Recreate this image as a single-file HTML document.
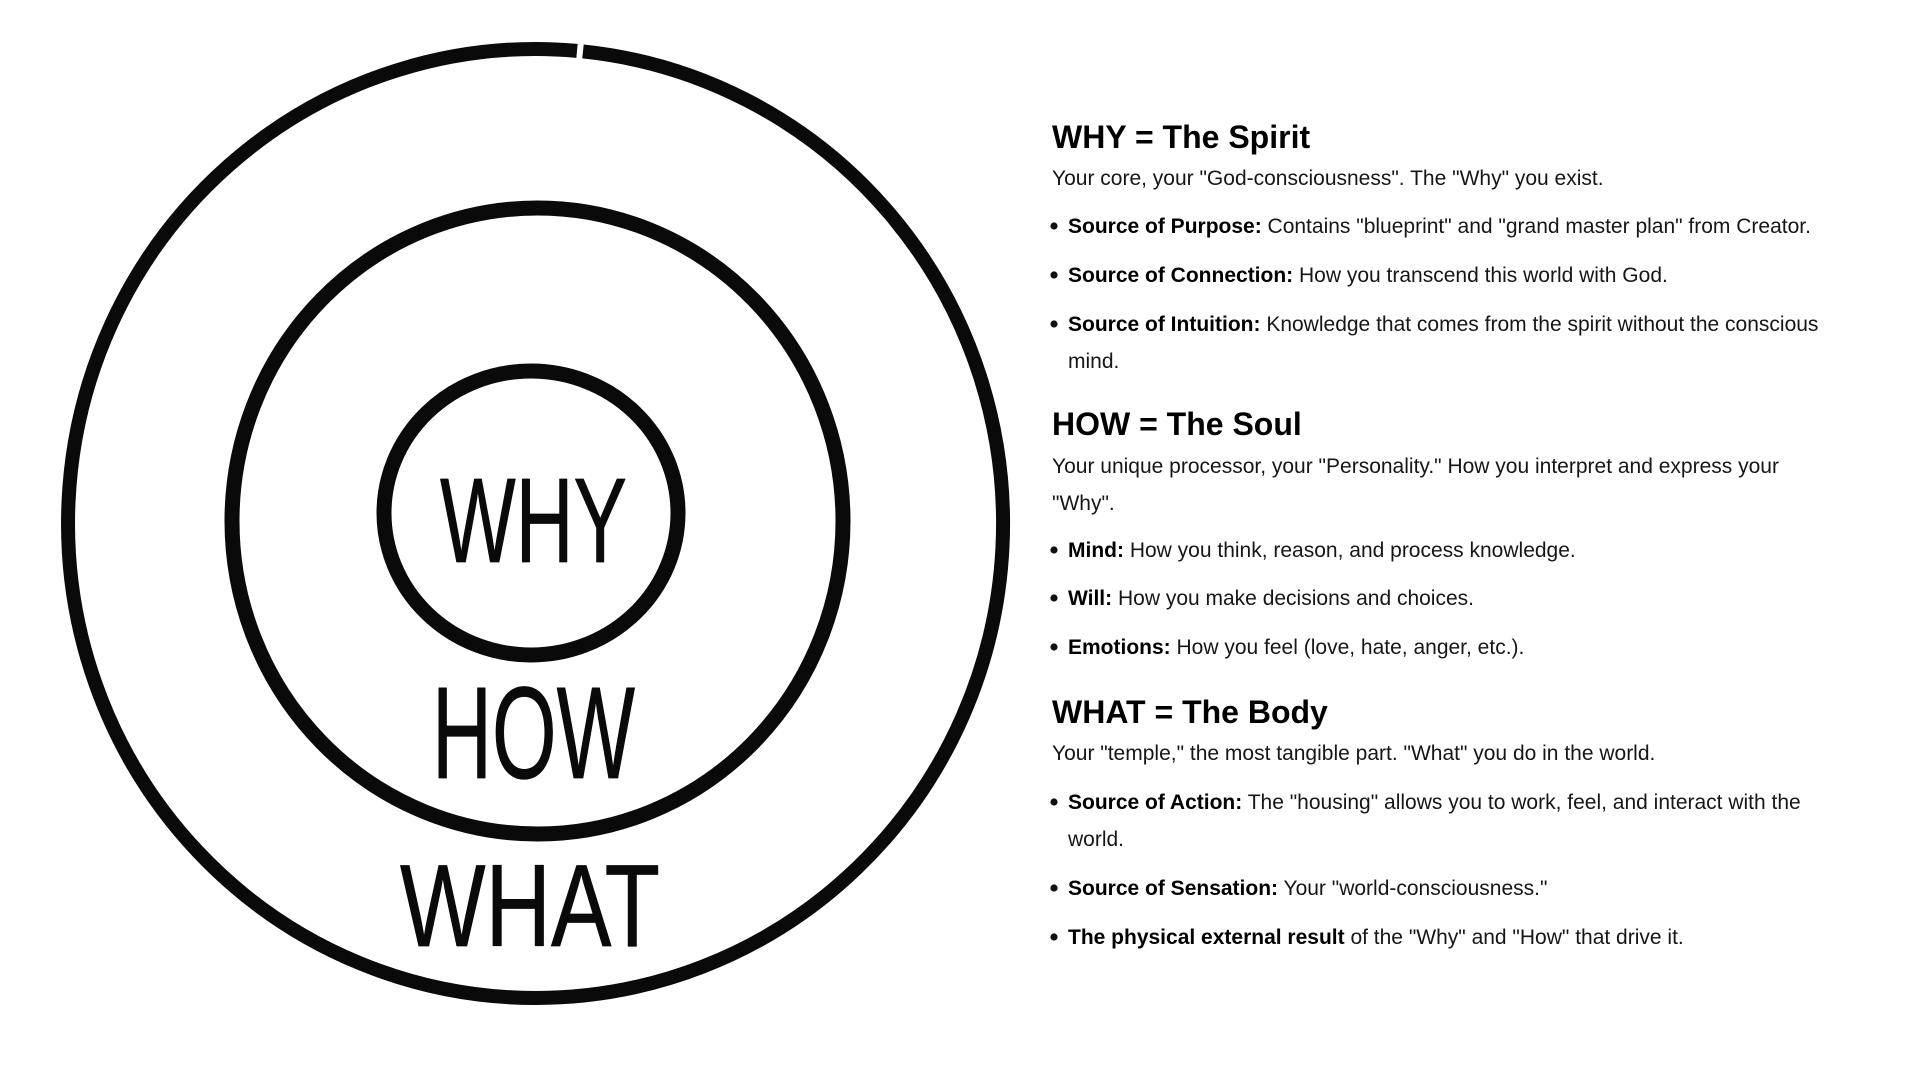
<!DOCTYPE html>
<html>
<head>
<meta charset="utf-8">
<style>
  html, body { margin: 0; padding: 0; background: #ffffff; }
  body { width: 1920px; height: 1080px; overflow: hidden; position: relative; }
  svg { position: absolute; left: 0; top: 0; }
  .hand { font-family: "Liberation Sans", "DejaVu Sans", sans-serif; font-weight: 400; fill: #0a0a0a; }
  .h { font-family: "Liberation Sans", "DejaVu Sans", sans-serif; font-weight: 700; font-size: 32px; fill: #000; }
  .b { font-family: "Liberation Sans", "DejaVu Sans", sans-serif; font-weight: 400; font-size: 21px; fill: #161616; }
  .bold { font-weight: 700; fill: #000; }
</style>
</head>
<body>
<svg width="1920" height="1080" viewBox="0 0 1920 1080" xmlns="http://www.w3.org/2000/svg">
  <rect x="0" y="0" width="1920" height="1080" fill="#ffffff"/>

  <!-- Outer circle with small gap near top -->
  <path d="M 583 51.45 A 467.5 474.5 0 0 1 535.5 998 A 467.5 474.5 0 1 1 577 50.87"
        fill="none" stroke="#0a0a0a" stroke-width="14" stroke-linecap="butt"/>
  <!-- Middle circle -->
  <ellipse cx="537.5" cy="521" rx="305.5" ry="313" fill="none" stroke="#0a0a0a" stroke-width="15"/>
  <!-- Inner circle -->
  <ellipse cx="531" cy="513" rx="147" ry="142" fill="none" stroke="#0a0a0a" stroke-width="15"/>

  <!-- Hand lettering -->
  <text class="hand" x="440" y="562" font-size="121" textLength="187" lengthAdjust="spacingAndGlyphs" stroke="#0a0a0a" stroke-width="0.8" stroke-linejoin="round">WHY</text>
  <text class="hand" x="432" y="778" font-size="131" textLength="203" lengthAdjust="spacingAndGlyphs" stroke="#0a0a0a" stroke-width="0.8" stroke-linejoin="round">HOW</text>
  <text class="hand" x="400" y="946" font-size="117" textLength="260" lengthAdjust="spacingAndGlyphs" stroke="#0a0a0a" stroke-width="0.8" stroke-linejoin="round">WHAT</text>

  <!-- WHY section -->
  <text class="h" x="1052" y="148">WHY = The Spirit</text>
  <text class="b" x="1052" y="185">Your core, your &quot;God-consciousness&quot;. The &quot;Why&quot; you exist.</text>

  <circle cx="1054" cy="226" r="3.6" fill="#111"/>
  <text class="b" x="1068" y="233"><tspan class="bold">Source of Purpose:</tspan> Contains &quot;blueprint&quot; and &quot;grand master plan&quot; from Creator.</text>

  <circle cx="1054" cy="275" r="3.6" fill="#111"/>
  <text class="b" x="1068" y="282"><tspan class="bold">Source of Connection:</tspan> How you transcend this world with God.</text>

  <circle cx="1054" cy="324" r="3.6" fill="#111"/>
  <text class="b" x="1068" y="331"><tspan class="bold">Source of Intuition:</tspan> Knowledge that comes from the spirit without the conscious</text>
  <text class="b" x="1068" y="368">mind.</text>

  <!-- HOW section -->
  <text class="h" x="1052" y="435">HOW = The Soul</text>
  <text class="b" x="1052" y="473">Your unique processor, your &quot;Personality.&quot; How you interpret and express your</text>
  <text class="b" x="1052" y="510">&quot;Why&quot;.</text>

  <circle cx="1054" cy="550" r="3.6" fill="#111"/>
  <text class="b" x="1068" y="557"><tspan class="bold">Mind:</tspan> How you think, reason, and process knowledge.</text>

  <circle cx="1054" cy="598" r="3.6" fill="#111"/>
  <text class="b" x="1068" y="605"><tspan class="bold">Will:</tspan> How you make decisions and choices.</text>

  <circle cx="1054" cy="647" r="3.6" fill="#111"/>
  <text class="b" x="1068" y="654"><tspan class="bold">Emotions:</tspan> How you feel (love, hate, anger, etc.).</text>

  <!-- WHAT section -->
  <text class="h" x="1052" y="723">WHAT = The Body</text>
  <text class="b" x="1052" y="760">Your &quot;temple,&quot; the most tangible part. &quot;What&quot; you do in the world.</text>

  <circle cx="1054" cy="802" r="3.6" fill="#111"/>
  <text class="b" x="1068" y="809"><tspan class="bold">Source of Action:</tspan> The &quot;housing&quot; allows you to work, feel, and interact with the</text>
  <text class="b" x="1068" y="846">world.</text>

  <circle cx="1054" cy="888" r="3.6" fill="#111"/>
  <text class="b" x="1068" y="895"><tspan class="bold">Source of Sensation:</tspan> Your &quot;world-consciousness.&quot;</text>

  <circle cx="1054" cy="937" r="3.6" fill="#111"/>
  <text class="b" x="1068" y="944"><tspan class="bold">The physical external result</tspan> of the &quot;Why&quot; and &quot;How&quot; that drive it.</text>
</svg>
</body>
</html>
